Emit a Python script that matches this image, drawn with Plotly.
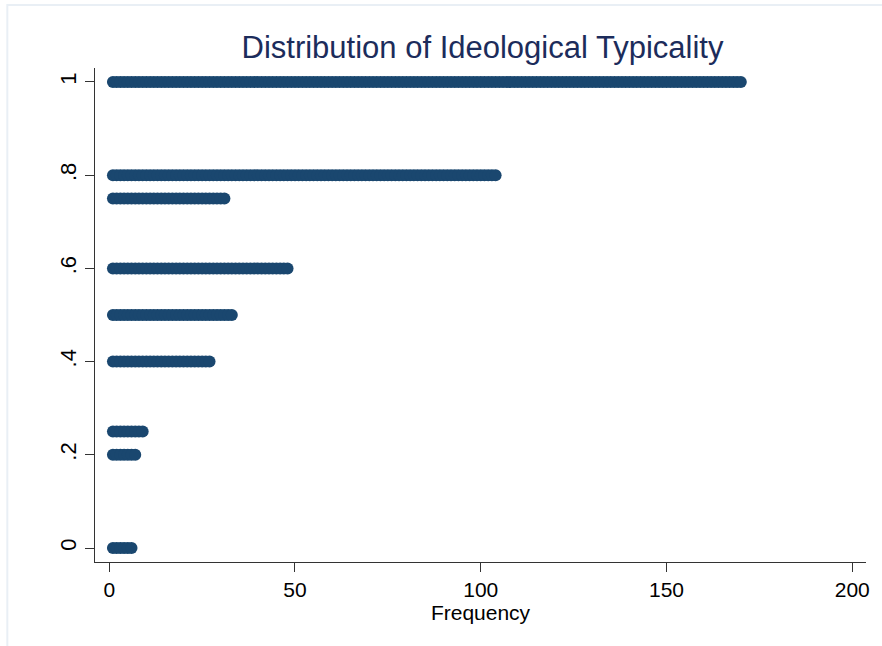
import plotly.graph_objects as go

# Ideological typicality scores and how many cases fall at each score
typicality = [0, 0.2, 0.25, 0.4, 0.5, 0.6, 0.75, 0.8, 1]
frequency = [6, 7, 9, 27, 33, 48, 31, 104, 170]

y_tickvals = [0, 0.2, 0.4, 0.6, 0.8, 1]
y_ticktext = ["0", ".2", ".4", ".6", ".8", "1"]
x_tickvals = [0, 50, 100, 150, 200]

# One dot per observation, stacked along the frequency axis
xs, ys = [], []
for val, n in zip(typicality, frequency):
    for i in range(1, n + 1):
        xs.append(i)
        ys.append(val)

navy = "#1a476f"
font = "Liberation Sans, Arial, sans-serif"

fig = go.Figure(
    go.Scatter(
        x=xs,
        y=ys,
        mode="markers",
        marker=dict(size=12, color=navy, line=dict(width=0)),
        hoverinfo="x+y",
    )
)

fig.update_layout(
    width=882,
    height=646,
    margin=dict(l=95, r=13, t=68, b=84),
    paper_bgcolor="white",
    plot_bgcolor="white",
    showlegend=False,
    font=dict(family=font, size=21, color="black"),
    title=dict(
        text="Distribution of Ideological Typicality",
        x=0.547,
        xanchor="center",
        y=0.927,
        yanchor="middle",
        font=dict(family=font, size=31, color="#1c2c5b"),
    ),
    xaxis=dict(
        range=[-3.83, 203.7],
        tickvals=x_tickvals,
        ticks="outside",
        ticklen=9,
        tickcolor="#333333",
        tickwidth=1,
        showline=True,
        linecolor="#333333",
        linewidth=1,
        showgrid=False,
        zeroline=False,
        title=dict(text="Frequency", standoff=0, font=dict(family=font, size=21)),
        tickfont=dict(family=font, size=21),
    ),
    yaxis=dict(
        range=[-0.03, 1.03],
        tickvals=y_tickvals,
        ticktext=y_ticktext,
        tickangle=-90,
        ticks="outside",
        ticklen=9,
        tickcolor="#333333",
        tickwidth=1,
        showline=True,
        linecolor="#333333",
        linewidth=1,
        showgrid=False,
        zeroline=False,
        tickfont=dict(family=font, size=22),
    ),
    shapes=[
        dict(
            type="rect",
            xref="paper",
            yref="paper",
            x0=(7 - 95) / 774,
            x1=1.2,
            y0=-0.3,
            y1=(562 - 5) / 494,
            line=dict(color="#e9eff5", width=2),
            fillcolor="rgba(0,0,0,0)",
            layer="below",
        )
    ],
)

fig.write_html("out.html")
